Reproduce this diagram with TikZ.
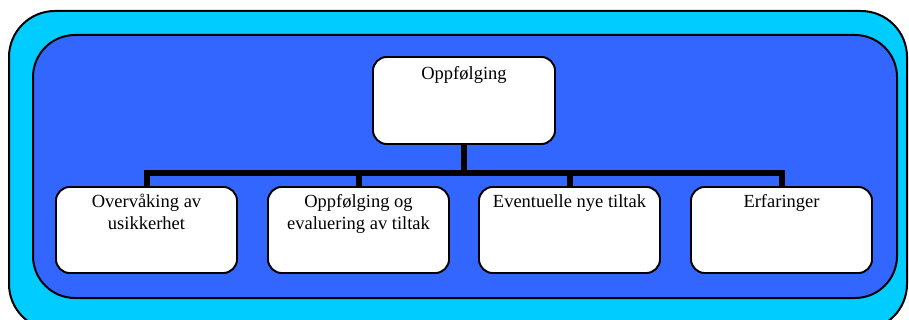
\documentclass[tikz,border=0pt]{standalone}
\usepackage{fontspec}
\setmainfont{Liberation Serif}
\definecolor{framecyan}{HTML}{00CCFF}
\definecolor{panelblue}{HTML}{3366FF}
\begin{document}
\begin{tikzpicture}[x=1pt,y=-1pt,
  frame/.style={draw=black,line width=2pt,fill=framecyan,rounded corners=46pt},
  panel/.style={draw=black,line width=2pt,fill=panelblue,rounded corners=42pt},
  card/.style={draw=black,line width=1.8pt,fill=white,rounded corners=14pt,
    minimum width=181pt,minimum height=86pt,inner sep=0pt,outer sep=0pt,anchor=north west},
  cardtext/.style={font=\fontsize{18.5}{22}\selectfont,align=center,anchor=north,inner sep=0pt},
  conn/.style={draw=black,line width=6pt,line join=miter}]
\useasboundingbox (0,0) rectangle (909,320);
% background frames
\path[frame] (9,11) rectangle (907,330);
\path[panel] (33,35) rectangle (897,298);
% hierarchy bus level
\coordinate (bus) at (464,173);
% cards
\node[card,minimum width=182pt,minimum height=87pt] (top) at (373,57) {};
\node[card] (c1) at (56,187) {};
\node[card] (c2) at (268,187) {};
\node[card] (c3) at (479,187) {};
\node[card] (c4) at (691,187) {};
% connectors
\draw[conn] (top.south) -- (top.south |- bus);
\draw[conn] (c1.north) -- (c1.north |- bus) -- (c4.north |- bus) -- (c4.north);
\draw[conn] (c2.north) -- (c2.north |- bus);
\draw[conn] (c3.north) -- (c3.north |- bus);
% redraw cards over connector ends
\node[card,minimum width=182pt,minimum height=87pt] at (373,57) {};
\node[card] at (56,187) {};
\node[card] at (268,187) {};
\node[card] at (479,187) {};
\node[card] at (691,187) {};
% labels
\node[cardtext] (ttop) at ([yshift=-9pt]top.north) {Oppfølging};
\node[cardtext] (t1) at ([yshift=-7pt]c1.north) {Overvåking av\\usikkerhet};
\node[cardtext] (t2) at ([yshift=-7pt]c2.north) {Oppfølging og\\evaluering av tiltak};
\node[cardtext] (t3) at ([yshift=-7pt]c3.north) {Eventuelle nye tiltak};
\node[cardtext] (t4) at ([yshift=-7pt]c4.north) {Erfaringer};
\end{tikzpicture}
\end{document}
